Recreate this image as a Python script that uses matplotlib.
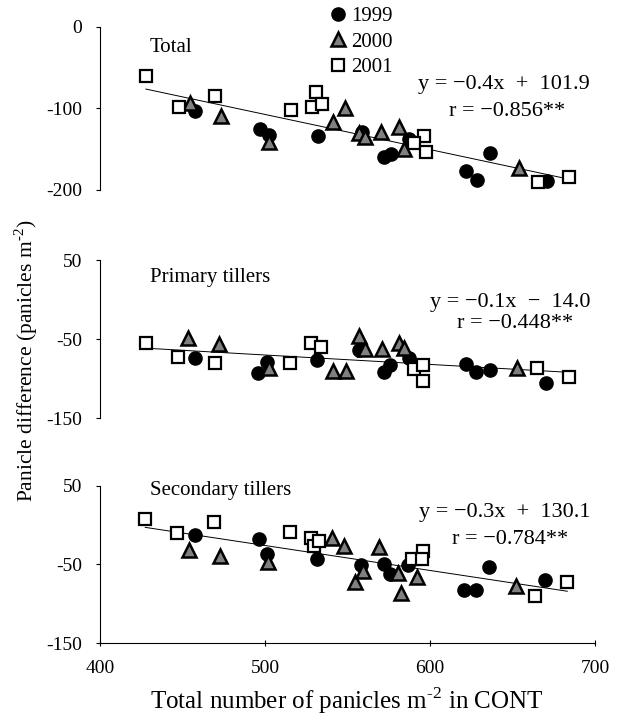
import matplotlib
matplotlib.use("Agg")
import matplotlib.pyplot as plt
import numpy as np

plt.rcParams['font.family'] = ['Liberation Serif', 'DejaVu Serif']
plt.rcParams['mathtext.fontset'] = 'custom'
plt.rcParams['mathtext.rm'] = 'Liberation Serif'

# data: x = total panicles in CONT, y = panicle difference
# Total
tot_x99 = [457.8, 496.7, 502.4, 532.0, 558.7, 572.3, 576.3, 587.5, 636.1, 621.6, 628.5, 671.0]
tot_y99 = [-103.2, -125.3, -132.6, -133.8, -128.5, -159.1, -155.9, -137.9, -155.0, -176.3, -187.7, -188.5]
tot_x00 = [454.7, 473.3, 502.4, 540.9, 548.6, 556.7, 560.7, 570.5, 581.4, 584.1, 654.0]
tot_y00 = [-93.0, -109.3, -140.8, -116.3, -100.0, -130.6, -134.6, -128.5, -122.4, -150.1, -173.4]
tot_x01 = [427.8, 447.6, 469.9, 516.0, 530.7, 528.7, 534.8, 596.2, 590.5, 597.6, 665.5, 684.4]
tot_y01 = [-60.4, -97.9, -84.9, -102.0, -79.6, -97.9, -95.0, -133.8, -142.8, -153.0, -189.7, -183.6]

# Primary tillers
pri_x99 = [457.4, 495.9, 501.0, 531.4, 556.7, 571.9, 575.9, 587.1, 621.6, 628.1, 636.1, 670.2]
pri_y99 = [-73.9, -92.8, -78.1, -76.0, -63.4, -92.0, -82.3, -73.9, -81.5, -92.0, -89.4, -105.4]
pri_x00 = [453.3, 472.4, 502.4, 541.0, 549.1, 556.7, 560.7, 570.8, 581.4, 584.4, 653.0]
pri_y00 = [-48.7, -56.3, -85.7, -90.7, -90.7, -45.8, -62.6, -62.6, -54.2, -60.5, -86.5]
pri_x01 = [427.8, 447.2, 469.5, 514.9, 527.7, 534.2, 590.5, 595.6, 596.0, 665.1, 684.4]
pri_y01 = [-55.0, -72.6, -79.4, -79.4, -54.2, -60.0, -87.8, -82.3, -103.3, -86.5, -97.8]

# Secondary tillers
sec_x99 = [457.8, 496.1, 501.2, 531.4, 558.2, 572.0, 575.5, 586.6, 635.7, 620.8, 627.9, 669.6]
sec_y99 = [-13.0, -17.2, -37.2, -43.6, -51.3, -50.0, -61.9, -51.3, -53.0, -82.8, -82.8, -70.0]
sec_x00 = [453.7, 472.6, 501.8, 540.3, 548.0, 554.7, 559.5, 569.3, 580.4, 582.4, 592.1, 652.4]
sec_y00 = [-31.7, -39.4, -47.0, -16.0, -26.6, -72.6, -58.5, -27.9, -60.6, -86.2, -65.7, -77.7]
sec_x01 = [427.4, 446.6, 468.9, 514.9, 527.7, 529.7, 532.8, 589.1, 595.6, 595.2, 663.9, 683.2]
sec_y01 = [8.3, -9.6, 4.5, -8.7, -16.0, -26.6, -20.2, -42.8, -33.0, -43.6, -89.6, -72.6]

panel_names = ['Total', 'Primary tillers', 'Secondary tillers']
equations = ['y = \u22120.4x  +  101.9', 'y = \u22120.1x  \u2212  14.0', 'y = \u22120.3x  +  130.1']
r_texts = ['r = \u22120.856**', 'r = \u22120.448**', 'r = \u22120.784**']
ylims = [(-200, 0), (-150, 50), (-150, 50)]
yticks = [[0, -100, -200], [50, -50, -150], [50, -50, -150]]
xticks = [400, 500, 600, 700]

panels = [
    (tot_x99, tot_y99, tot_x00, tot_y00, tot_x01, tot_y01),
    (pri_x99, pri_y99, pri_x00, pri_y00, pri_x01, pri_y01),
    (sec_x99, sec_y99, sec_x00, sec_y00, sec_x01, sec_y01),
]

fig = plt.figure(figsize=(6.33, 7.25), dpi=100)
boxes = [(0.158, 0.738, 0.782, 0.225),
         (0.158, 0.423, 0.782, 0.218),
         (0.158, 0.113, 0.782, 0.217)]
# text positions in axes coords: panel name, equation, r
name_pos = [(0.10, 0.93), (0.10, 0.95), (0.10, 1.03)]
eq_pos = [(0.99, 0.644), (0.99, 0.734), (0.99, 0.83)]
r_pos = [(0.94, 0.479), (0.955, 0.60), (0.945, 0.66)]

axes = []
for i, box in enumerate(boxes):
    ax = fig.add_axes(box)
    x99, y99, x00, y00, x01, y01 = panels[i]
    allx = np.array(x99 + x00 + x01)
    ally = np.array(y99 + y00 + y01)
    k, b = np.polyfit(allx, ally, 1)
    xs = np.array([allx.min(), allx.max()])
    ax.plot(xs, k * xs + b, color='black', lw=0.7, zorder=1)
    ax.plot(x99, y99, 'o', color='black', ms=9.5, zorder=3, label='1999')
    ax.plot(x00, y00, '^', mfc='0.5', mec='black', mew=1.8, ms=9.5, zorder=3, label='2000')
    ax.plot(x01, y01, 's', mfc='white', mec='black', mew=1.6, ms=9, zorder=3, label='2001')

    ax.set_xlim(400, 700)
    ax.set_ylim(*ylims[i])
    ax.set_yticks(yticks[i])
    ax.set_yticklabels([str(t) for t in yticks[i]], fontsize=14)
    ax.spines['top'].set_visible(False)
    ax.spines['right'].set_visible(False)
    ax.spines['left'].set_linewidth(0.8)
    ax.tick_params(axis='y', direction='out', length=3, width=0.8, pad=10)
    if i < 2:
        ax.spines['bottom'].set_visible(False)
        ax.set_xticks([])
    else:
        ax.set_xticks(xticks)
        ax.set_xticklabels([str(t) for t in xticks], fontsize=14)
        ax.spines['bottom'].set_linewidth(0.8)
        ax.tick_params(axis='x', direction='inout', length=5, width=0.8, pad=10)
    ax.patch.set_alpha(0)

    ax.text(*name_pos[i], panel_names[i], transform=ax.transAxes, fontsize=15, ha='left', va='top')
    ax.text(*eq_pos[i], equations[i], transform=ax.transAxes, fontsize=16, ha='right', va='center')
    ax.text(*r_pos[i], r_texts[i], transform=ax.transAxes, fontsize=16, ha='right', va='center')
    axes.append(ax)

handles, labels = axes[0].get_legend_handles_labels()
fig.legend(handles, labels, loc='upper left', bbox_to_anchor=(0.503, 1.008), frameon=False,
           fontsize=15, handlelength=0.7, handletextpad=0.25, labelspacing=0.28, borderpad=0.1)

fig.text(0.042, 0.503, 'Panicle difference (panicles m$^{\\text{-2}}$)', rotation=90, fontsize=15.5,
         ha='center', va='center')
fig.text(0.548, 0.034, 'Total number of panicles m$^{\\text{-2}}$ in CONT', fontsize=18,
         ha='center', va='center')

fig.savefig('out.png', dpi=100)
